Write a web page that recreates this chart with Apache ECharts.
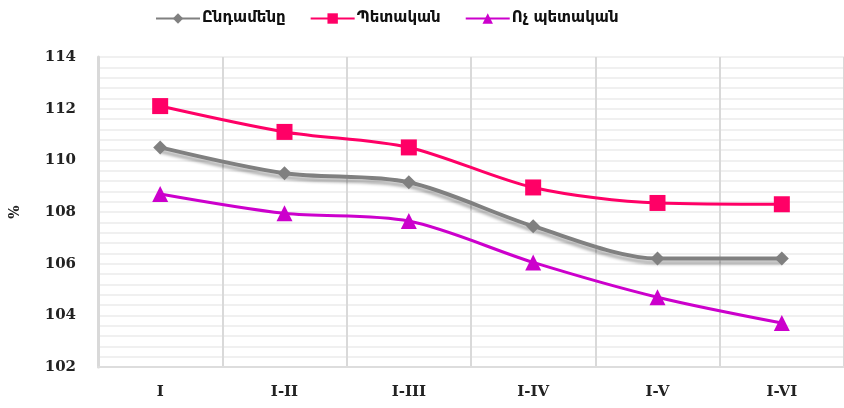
<!DOCTYPE html>
<html>
<head>
<meta charset="utf-8">
<script src="https://cdn.jsdelivr.net/npm/echarts@6/dist/echarts.min.js"></script>
<style>
  html, body { margin: 0; padding: 0; background: #fff; }
  #chart { width: 844px; height: 408px; }
</style>
</head>
<body>
<div id="chart"></div>
<script>
const categories = ["I", "I-II", "I-III", "I-IV", "I-V", "I-VI"];
const totalValues = [110.5, 109.5, 109.15, 107.45, 106.2, 106.2];
const stateValues = [112.1, 111.1, 110.5, 108.95, 108.35, 108.3];
const nonStateValues = [108.7, 107.95, 107.65, 106.05, 104.7, 103.7];
const seriesNames = ["Ընդամենը", "Պետական", "Ոչ պետական"];

const myChart = echarts.init(document.getElementById("chart"));
const labelFont = "'DejaVu Serif', 'Liberation Serif', serif";

const option = {
  animation: false,
  legend: {
    top: 6,
    left: 150,
    itemWidth: 44,
    itemHeight: 13,
    itemGap: 24,
    textStyle: { fontFamily: "'DejaVu Sans', sans-serif", fontWeight: "bold", fontSize: 15, color: "#111", padding: [0, 0, 0, -3] },
    data: seriesNames
  },
  grid: {
    left: 98,
    top: 57,
    width: 750,
    height: 310
  },
  xAxis: {
    type: "category",
    data: categories,
    axisLine: { show: true, lineStyle: { color: "#dddddd", width: 2 } },
    axisTick: { show: false },
    splitLine: { show: true, lineStyle: { color: "#d9d9d9", width: 2 } },
    axisLabel: { margin: 18, fontFamily: labelFont, fontWeight: "bold", fontSize: 15, color: "#222" }
  },
  yAxis: {
    type: "value",
    min: 102,
    max: 114,
    interval: 2,
    name: "%",
    nameLocation: "middle",
    nameRotate: 90,
    nameGap: 76,
    nameTextStyle: { fontFamily: labelFont, fontWeight: "bold", fontSize: 14, color: "#222" },
    axisLine: { show: true, lineStyle: { color: "#d9d9d9", width: 3 } },
    axisTick: { show: false },
    axisLabel: { margin: 22, fontFamily: labelFont, fontWeight: "bold", fontSize: 15, color: "#222" },
    splitLine: { show: true, lineStyle: { color: "#f0f0f0", width: 2 } },
    minorTick: { show: false, splitNumber: 5 },
    minorSplitLine: { show: true, lineStyle: { color: "#f0f0f0", width: 2 } }
  },
  series: [
    {
      name: seriesNames[0],
      type: "line",
      smooth: 0.3,
      data: totalValues,
      symbol: "diamond",
      symbolSize: 14,
      itemStyle: { color: "#808080" },
      lineStyle: {
        color: "#808080",
        width: 4,
        shadowColor: "rgba(0,0,0,0.3)",
        shadowBlur: 3,
        shadowOffsetY: 4
      },
      z: 3
    },
    {
      name: seriesNames[1],
      type: "line",
      smooth: 0.3,
      data: stateValues,
      symbol: "rect",
      symbolSize: 16,
      itemStyle: { color: "#ff0066" },
      lineStyle: { color: "#ff0066", width: 3 },
      z: 4
    },
    {
      name: seriesNames[2],
      type: "line",
      smooth: 0.3,
      data: nonStateValues,
      symbol: "triangle",
      symbolSize: 16,
      itemStyle: { color: "#cc00cc" },
      lineStyle: { color: "#cc00cc", width: 3 },
      z: 5
    }
  ]
};
myChart.setOption(option);
</script>
</body>
</html>
